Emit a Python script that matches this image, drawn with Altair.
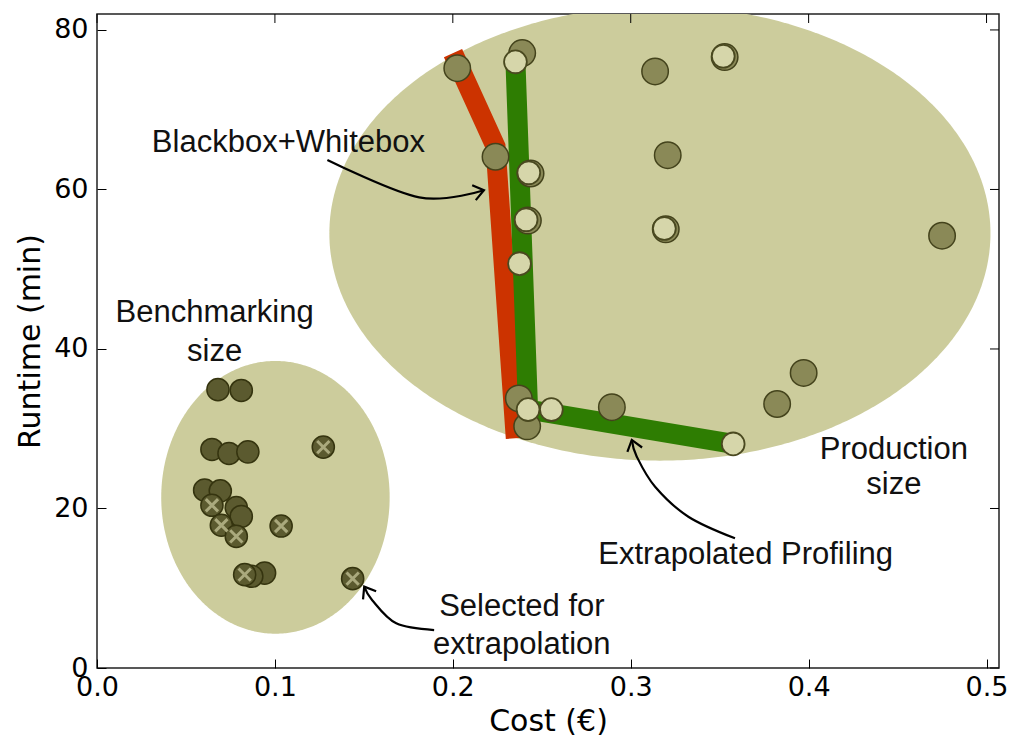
import altair as alt
import pandas as pd
import numpy as np

# ---------------- data ----------------
# Benchmarking-size runs (dark olive); selected ones carry an "x"
bench_cost = [0.0680, 0.0811, 0.0646, 0.0742, 0.0848, 0.1272, 0.0605, 0.0693, 0.0646,
              0.0783, 0.0811, 0.0699, 0.0783, 0.1035, 0.0942, 0.0870, 0.0830, 0.1437]
bench_time = [34.9, 34.8, 27.4, 26.9, 27.1, 27.7, 22.3, 22.2, 20.4,
              20.1, 19.0, 17.9, 16.5, 17.8, 11.9, 11.5, 11.7, 11.2]
bench_selected = [False, False, False, False, False, True, False, False, True,
                  False, False, True, True, True, False, False, True, True]

# Production-size runs (medium olive)
prod_cost = [0.2025, 0.2390, 0.2240, 0.2437, 0.2422, 0.2371, 0.2418, 0.2894,
             0.3137, 0.3528, 0.3208, 0.3197, 0.4750, 0.3972, 0.3823]
prod_time = [75.2, 77.1, 64.1, 62.0, 56.1, 33.8, 30.3, 32.7,
             74.8, 76.6, 64.3, 55.0, 54.2, 37.0, 33.1]

# Extrapolated predictions (light)
extra_cost = [0.2352, 0.2427, 0.2412, 0.2375, 0.2423, 0.2554, 0.3576, 0.3520, 0.3189]
extra_time = [76.0, 62.1, 56.2, 50.7, 32.4, 32.4, 28.1, 76.7, 55.1]

# Pareto fronts
bw_cost = [0.2001, 0.2240, 0.2354]
bw_time = [77.1, 65.4, 28.8]
ep_cost = [0.2352, 0.2423, 0.3576]
ep_time = [76.0, 32.4, 28.1]

# Group ellipses
ell_name = ["bench", "prod"]
ell_cx = [0.1003, 0.3164]
ell_cy = [21.4, 54.5]
ell_rx = [0.0642, 0.1858]
ell_ry = [17.1, 28.5]

# Annotations
txt_label = ["Blackbox+Whitebox", "Benchmarking", "size", "Production", "size",
             "Selected for", "extrapolation", "Extrapolated Profiling"]
txt_cost = [0.1076, 0.0661, 0.0661, 0.4479, 0.4479, 0.2388, 0.2388, 0.3646]
txt_time = [65.8, 44.5, 39.6, 27.3, 22.9, 7.6, 2.9, 14.2]

arrow_id = [1, 1, 1, 2, 2, 2, 2, 3, 3, 3, 3, 3]
arrow_ord = [0, 1, 2, 0, 1, 2, 3, 0, 1, 2, 3, 4]
arrow_cost = [0.1295, 0.1811, 0.2175, 0.1895, 0.1682, 0.1547, 0.1502,
              0.3586, 0.3324, 0.3137, 0.3034, 0.3006]
arrow_time = [63.7, 59.0, 59.9, 4.76, 5.6, 8.5, 10.2, 16.26, 18.97, 22.73, 26.5, 28.6]
head_cost = [0.2175, 0.1502, 0.3006]
head_time = [59.9, 10.2, 28.6]
head_angle = [346.5, 238.4, 253.3]

x_ticks = [0.0, 0.1, 0.2, 0.3, 0.4, 0.5]
y_ticks = [0, 20, 40, 60, 80]

# ---------------- tables ----------------
W, H = 902, 654
xs = alt.Scale(domain=[0, 0.507], nice=False, zero=False)
ys = alt.Scale(domain=[0, 82], nice=False, zero=False)

rows = []
t = np.linspace(0, np.pi, 241)
for n, cx, cy, rx, ry in zip(ell_name, ell_cx, ell_cy, ell_rx, ell_ry):
    for tt in t:
        rows.append({"ell": n, "x": cx + rx * np.cos(tt),
                     "y": cy - ry * np.sin(tt), "hi": cy + ry * np.sin(tt)})
ell_df = pd.DataFrame(rows)

bench_df = pd.DataFrame({"x": bench_cost, "y": bench_time, "sel": bench_selected})
sel_df = bench_df[bench_df["sel"]]
prod_df = pd.DataFrame({"x": prod_cost, "y": prod_time})
extra_df = pd.DataFrame({"x": extra_cost, "y": extra_time})
bw_df = pd.DataFrame({"x": bw_cost, "y": bw_time, "o": range(len(bw_cost))})
ep_df = pd.DataFrame({"x": ep_cost, "y": ep_time, "o": range(len(ep_cost))})
txt_df = pd.DataFrame({"t": txt_label, "x": txt_cost, "y": txt_time})
arr_df = pd.DataFrame({"id": arrow_id, "o": arrow_ord, "x": arrow_cost, "y": arrow_time})
head_df = pd.DataFrame({"x": head_cost, "y": head_time, "a": head_angle})
xt_df = pd.DataFrame({"x": x_ticks})
yt_df = pd.DataFrame({"y": y_ticks})

x_axis = alt.Axis(title="Cost (€)", values=x_ticks, format=".1f", grid=False, domain=False,
                  offset=-9, tickSize=9, tickColor="black", tickWidth=1, zindex=1,
                  labelPadding=6, titlePadding=6, labelFlush=False, labelOverlap=False)
y_axis = alt.Axis(title="Runtime (min)", values=y_ticks, format="d", grid=False, domain=False,
                  offset=-9, tickSize=9, tickColor="black", tickWidth=1, zindex=1,
                  labelPadding=9, titlePadding=8, labelFlush=False, labelOverlap=False)


def X(f="x"):
    return alt.X(f, type="quantitative", scale=xs, axis=x_axis)


def Y(f="y"):
    return alt.Y(f, type="quantitative", scale=ys, axis=y_axis, stack=None)


ellipses = alt.Chart(ell_df).mark_area(color="#cccc9c", clip=True, opacity=1).encode(
    x=X(), y=Y(), y2="hi", detail="ell:N",
)

red = alt.Chart(bw_df).mark_line(color="#cc3300", strokeWidth=20, strokeCap="butt",
                                 strokeJoin="miter").encode(x=X(), y=Y(), order="o:Q")
green = alt.Chart(ep_df).mark_line(color="#2e7d02", strokeWidth=20, strokeCap="butt",
                                   strokeJoin="miter").encode(x=X(), y=Y(), order="o:Q")

bench = alt.Chart(bench_df).mark_point(shape="circle", filled=True, size=490, fill="#5b5a2f",
                                       stroke="#35340f", strokeWidth=1.5, opacity=1,
                                       fillOpacity=1).encode(x=X(), y=Y())
xmarks = alt.Chart(sel_df).mark_point(shape="M-1,-1L1,1M-1,1L1,-1", filled=False,
                                      size=150, stroke="#aaa97d", strokeWidth=3,
                                      opacity=1).encode(x=X(), y=Y())
prod = alt.Chart(prod_df).mark_point(shape="circle", filled=True, size=700, fill="#8a8957",
                                     stroke="#44431c", strokeWidth=1.5, opacity=1,
                                     fillOpacity=1).encode(x=X(), y=Y())
extra = alt.Chart(extra_df).mark_point(shape="circle", filled=True, size=520, fill="#d6d6aa",
                                       stroke="#4a4920", strokeWidth=1.8, opacity=1,
                                       fillOpacity=1).encode(x=X(), y=Y())

arrows = alt.Chart(arr_df).mark_line(color="black", strokeWidth=2.2, interpolate="cardinal").encode(
    x=X(), y=Y(), detail="id:N", order="o:Q")
heads = alt.Chart(head_df).mark_point(shape="M-1,-0.75L0,0L-1,0.75", filled=False, size=420,
                                      stroke="black", strokeWidth=2.2, opacity=1).encode(
    x=X(), y=Y(), angle=alt.Angle("a:Q", scale=None))

texts = alt.Chart(txt_df).mark_text(font="Liberation Sans", fontSize=31, color="#111111",
                                    align="center", baseline="middle").encode(
    x=X(), y=Y(), text="t:N")

top_ticks = alt.Chart(xt_df).mark_rule(color="black", strokeWidth=1).encode(
    x=X(), y=alt.value(0), y2=alt.value(9))
right_ticks = alt.Chart(yt_df).mark_rule(color="black", strokeWidth=1).encode(
    y=Y(), x=alt.value(W - 9), x2=alt.value(W))

chart = alt.layer(
    ellipses, red, green, bench, xmarks, prod, extra, arrows, heads, texts, top_ticks, right_ticks
).properties(
    width=W, height=H,
    padding={"left": 89, "top": 6, "right": 10, "bottom": 72},
    autosize=alt.AutoSizeParams(type="none"),
    background="white",
).configure_view(
    stroke="#222222", strokeWidth=1.5
).configure_axis(
    labelFont="DejaVu Sans", labelFontSize=27, labelColor="black",
    titleFont="DejaVu Sans", titleFontSize=30, titleColor="black", titleFontWeight="normal",
)

chart.save("out.html", embed_options={"renderer": "svg", "actions": False})
